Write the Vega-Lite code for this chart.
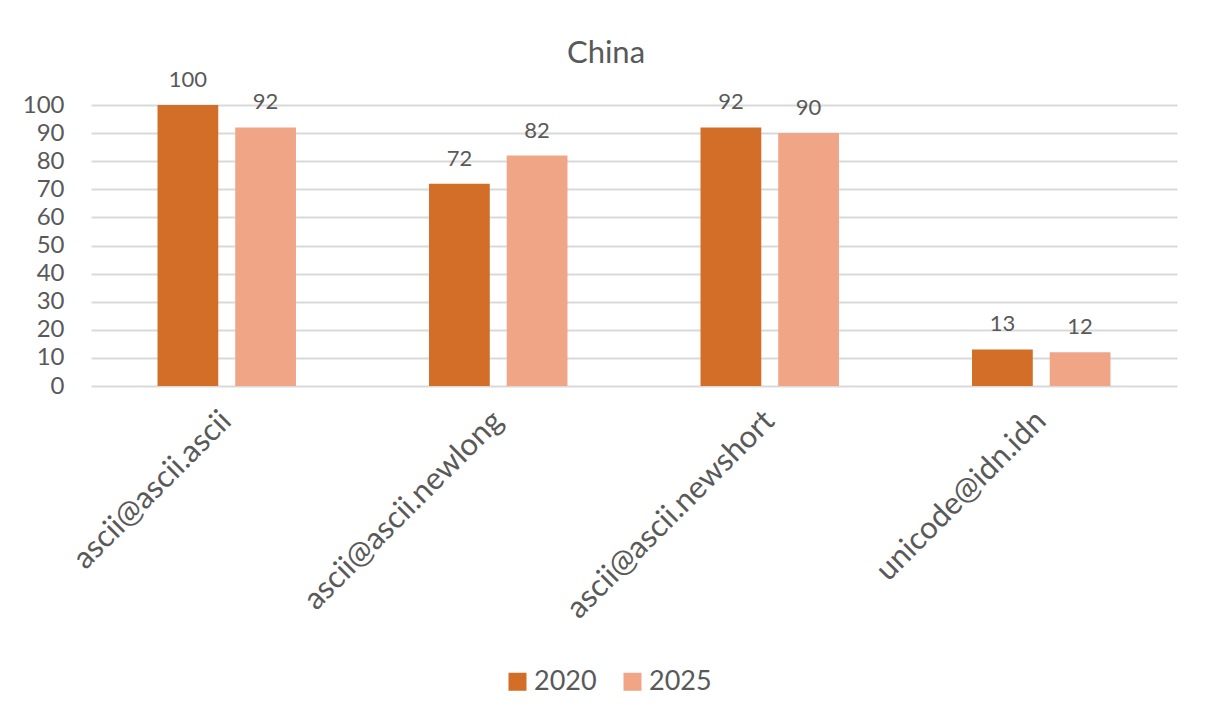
{
  "$schema": "https://vega.github.io/schema/vega-lite/v6.json",
  "width": 1086,
  "height": 281,
  "autosize": {"type": "none"},
  "padding": {"left": 91, "top": 105, "right": 28, "bottom": 336},
  "background": "white",
  "title": {
    "text": "China",
    "font": "Lato",
    "fontSize": 31,
    "fontWeight": "normal",
    "color": "#595959",
    "anchor": "middle",
    "dx": -28,
    "offset": -1
  },
  "config": {
    "view": {"stroke": null},
    "font": "Lato"
  },
  "data": {
    "values": [
      {"category": "ascii@ascii.ascii", "year": "2020", "value": 100},
      {"category": "ascii@ascii.ascii", "year": "2025", "value": 92},
      {"category": "ascii@ascii.newlong", "year": "2020", "value": 72},
      {"category": "ascii@ascii.newlong", "year": "2025", "value": 82},
      {"category": "ascii@ascii.newshort", "year": "2020", "value": 92},
      {"category": "ascii@ascii.newshort", "year": "2025", "value": 90},
      {"category": "unicode@idn.idn", "year": "2020", "value": 13},
      {"category": "unicode@idn.idn", "year": "2025", "value": 12}
    ]
  },
  "encoding": {
    "x": {
      "field": "category",
      "type": "nominal",
      "sort": null,
      "scale": {"paddingInner": 0.49, "paddingOuter": 0.245},
      "axis": {
        "title": null,
        "labelAngle": -45,
        "labelAlign": "right",
        "labelBaseline": "middle",
        "labelFontSize": 31,
        "labelColor": "#595959",
        "labelFont": "Lato",
        "labelPadding": 30,
        "ticks": false,
        "domain": false,
        "labelLimit": 400
      }
    },
    "xOffset": {
      "field": "year",
      "type": "nominal",
      "scale": {"paddingInner": 0.218, "paddingOuter": 0}
    },
    "y": {
      "field": "value",
      "type": "quantitative",
      "scale": {"domain": [0, 100], "nice": false},
      "axis": {
        "title": null,
        "values": [0, 10, 20, 30, 40, 50, 60, 70, 80, 90, 100],
        "labelFontSize": 24,
        "labelColor": "#595959",
        "labelFont": "Lato",
        "labelPadding": 27,
        "ticks": false,
        "domain": false,
        "gridColor": "#D9D9D9",
        "gridWidth": 2
      }
    }
  },
  "layer": [
    {
      "mark": {"type": "bar"},
      "encoding": {
        "color": {
          "field": "year",
          "type": "nominal",
          "scale": {"domain": ["2020", "2025"], "range": ["#D26E28", "#F1A587"]},
          "legend": {
            "title": null,
            "orient": "none",
            "direction": "horizontal",
            "legendX": 413,
            "legendY": 563,
            "symbolType": "square",
            "symbolSize": 324,
            "symbolStrokeWidth": 0,
            "labelFontSize": 27,
            "labelColor": "#595959",
            "labelFont": "Lato",
            "labelOffset": 3,
            "columnPadding": 22
          }
        }
      }
    },
    {
      "mark": {
        "type": "text",
        "baseline": "alphabetic",
        "dy": -18,
        "fontSize": 22,
        "color": "#595959",
        "font": "Lato"
      },
      "encoding": {
        "text": {"field": "value", "type": "quantitative"}
      }
    }
  ]
}
